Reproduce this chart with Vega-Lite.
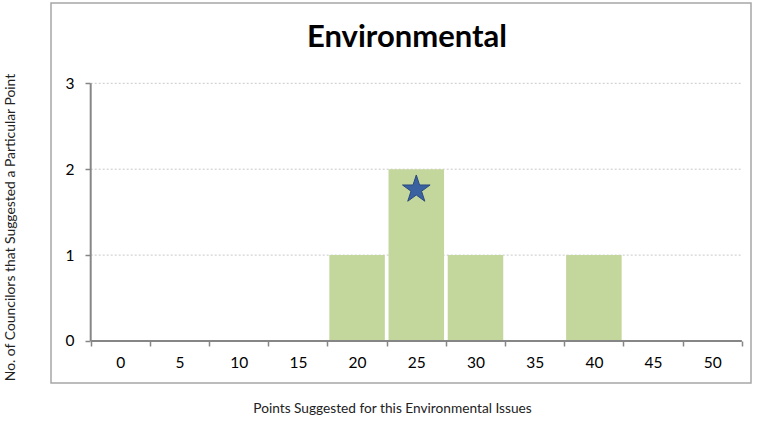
{
  "$schema": "https://vega.github.io/schema/vega-lite/v6.json",
  "width": 700,
  "height": 380,
  "autosize": {"type": "none"},
  "padding": {"left": 51, "top": 3, "right": 14, "bottom": 38},
  "background": "white",
  "config": {
    "view": {"stroke": "#a6a6a6", "strokeWidth": 1.5},
    "font": "Lato"
  },
  "title": {
    "text": "Environmental",
    "font": "Lato",
    "fontSize": 31,
    "fontWeight": "bold",
    "color": "#000000",
    "anchor": "middle",
    "baseline": "alphabetic",
    "offset": -75,
    "dx": 6
  },
  "layer": [
    {
      "data": {"values": [{"level": 1}, {"level": 2}, {"level": 3}]},
      "mark": {"type": "rule", "stroke": "#c8c8c8", "strokeWidth": 1, "strokeDash": [2, 2]},
      "encoding": {
        "y": {"field": "level", "type": "quantitative"},
        "x": {"datum": -2.5},
        "x2": {"datum": 52.5}
      }
    },
    {
      "data": {"values": [
        {"points": 0, "count": 0},
        {"points": 5, "count": 0},
        {"points": 10, "count": 0},
        {"points": 15, "count": 0},
        {"points": 20, "count": 1},
        {"points": 25, "count": 2},
        {"points": 30, "count": 1},
        {"points": 35, "count": 0},
        {"points": 40, "count": 1},
        {"points": 45, "count": 0},
        {"points": 50, "count": 0}
      ]},
      "mark": {"type": "bar", "color": "#c3d69b", "width": 55.5},
      "encoding": {
        "x": {
          "field": "points",
          "type": "quantitative",
          "scale": {"domain": [-5.853, 53.27], "nice": false, "zero": false, "padding": 0},
          "axis": {
            "orient": "bottom",
            "offset": -42,
            "domain": false,
            "grid": false,
            "values": [-2.5, 2.5, 7.5, 12.5, 17.5, 22.5, 27.5, 32.5, 37.5, 42.5, 47.5, 52.5],
            "labelExpr": "datum.value > 50 ? '' : format(datum.value + 2.5, 'd')",
            "labelOffset": 29.6,
            "labelFlush": false,
            "labelOverlap": false,
            "labelFont": "Lato",
            "labelFontSize": 15.5,
            "labelColor": "#000000",
            "labelPadding": 9,
            "tickSize": 5,
            "tickColor": "#868686",
            "tickWidth": 1.5,
            "title": "Points Suggested for this Environmental Issues",
            "titleFont": "Lato",
            "titleFontSize": 13.7,
            "titleFontWeight": "normal",
            "titleColor": "#222222",
            "titleX": 341,
            "titleY": 67,
            "titleBaseline": "middle",
            "titleAlign": "center"
          }
        },
        "y": {
          "field": "count",
          "type": "quantitative",
          "scale": {"domain": [-0.489, 3.935], "nice": false, "zero": false, "padding": 0},
          "axis": {
            "orient": "left",
            "offset": -39,
            "domain": false,
            "grid": false,
            "values": [0, 1, 2, 3],
            "format": "d",
            "labelFont": "Lato",
            "labelFontSize": 15.5,
            "labelColor": "#000000",
            "labelPadding": 11,
            "tickSize": 5,
            "tickColor": "#868686",
            "tickWidth": 1.5,
            "title": "No. of Councilors that Suggested a Particular Point",
            "titleFont": "Lato",
            "titleFontSize": 13.9,
            "titleFontWeight": "normal",
            "titleColor": "#222222",
            "titleAngle": -90,
            "titleX": -79.5,
            "titleY": 224,
            "titleBaseline": "middle",
            "titleAlign": "center"
          }
        }
      }
    },
    {
      "data": {"values": [{"points": 25, "marker": 1.764}]},
      "mark": {"type": "point", "shape": "M0,-1L0.225,-0.309L0.951,-0.309L0.363,0.118L0.588,0.809L0,0.382L-0.588,0.809L-0.363,0.118L-0.951,-0.309L-0.225,-0.309Z", "filled": true, "size": 841, "color": "#3a62a0", "stroke": "#2a4a80", "strokeWidth": 1, "opacity": 1},
      "encoding": {
        "x": {"field": "points", "type": "quantitative"},
        "y": {"field": "marker", "type": "quantitative"}
      }
    },
    {
      "data": {"values": [{}]},
      "mark": {"type": "rule", "stroke": "#868686", "strokeWidth": 2},
      "encoding": {
        "x": {"datum": -2.5},
        "y": {"datum": 0},
        "y2": {"datum": 3}
      }
    },
    {
      "data": {"values": [{}]},
      "mark": {"type": "rule", "stroke": "#868686", "strokeWidth": 2},
      "encoding": {
        "y": {"datum": 0},
        "x": {"datum": -2.5},
        "x2": {"datum": 52.5}
      }
    }
  ]
}
